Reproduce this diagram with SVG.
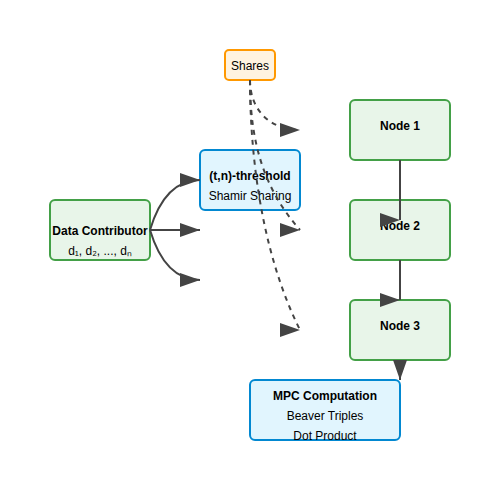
<svg xmlns="http://www.w3.org/2000/svg" width="500" height="500" viewBox="0 0 500 500">
  <defs>
    <marker id="arrowR" markerWidth="10" markerHeight="7" refX="10" refY="3.5" orient="0">
      <polygon points="0 0, 10 3.5, 0 7" fill="#444"/>
    </marker>
    <marker id="arrowA" markerWidth="10" markerHeight="7" refX="10" refY="3.5" orient="auto">
      <polygon points="0 0, 10 3.5, 0 7" fill="#444"/>
    </marker>
    <style>
      text { font-family: "Liberation Sans", Arial, sans-serif; font-size: 12px; fill: #000; text-anchor: middle; }
      .b { font-weight: bold; }
      .green { fill: #e8f5e9; stroke: #43a047; stroke-width: 2; }
      .blue { fill: #e1f5fe; stroke: #0288d1; stroke-width: 2; }
      .orange { fill: #fff3e0; stroke: #ff9800; stroke-width: 2; }
      .solid { fill: none; stroke: #444; stroke-width: 2; marker-end: url(#arrowR); }
      .dash { fill: none; stroke: #444; stroke-width: 2; stroke-dasharray: 5,5; marker-end: url(#arrowR); }
    </style>
  </defs>
  <rect width="500" height="500" fill="#fff"/>

  <g id="data-contributor">
    <rect class="green" x="50" y="200" width="100" height="60" rx="5"/>
    <text class="b" x="100" y="235">Data Contributor</text>
    <text x="100" y="255">d₁, d₂, ..., dₙ</text>
  </g>

  <g id="shares">
    <rect class="orange" x="225" y="50" width="50" height="30" rx="4"/>
    <text x="250" y="70">Shares</text>
  </g>

  <g id="shamir">
    <rect class="blue" x="200" y="150" width="100" height="60" rx="5"/>
    <text class="b" x="250" y="180">(t,n)-threshold</text>
    <text x="250" y="200">Shamir Sharing</text>
  </g>

  <g id="node1">
    <rect class="green" x="350" y="100" width="100" height="60" rx="5"/>
    <text class="b" x="400" y="130">Node 1</text>
  </g>

  <g id="node2">
    <rect class="green" x="350" y="200" width="100" height="60" rx="5"/>
    <text class="b" x="400" y="230">Node 2</text>
  </g>

  <g id="node3">
    <rect class="green" x="350" y="300" width="100" height="60" rx="5"/>
    <text class="b" x="400" y="330">Node 3</text>
  </g>

  <g id="mpc">
    <rect class="blue" x="250" y="380" width="150" height="60" rx="5"/>
    <text class="b" x="325" y="400">MPC Computation</text>
    <text x="325" y="420">Beaver Triples</text>
    <text x="325" y="440">Dot Product</text>
  </g>

  <g id="connectors">
    <path class="solid" d="M150,230 Q165,180 200,180"/>
    <path class="solid" d="M150,230 L200,230"/>
    <path class="solid" d="M150,230 Q165,280 200,280"/>
    <path class="dash" d="M250,80 C250,110 270,130 300,130"/>
    <path class="dash" d="M250,80 C250,145 265,190 300,230"/>
    <path class="dash" d="M250,80 C250,150 260,250 300,330"/>
    <path class="solid" d="M400,160 L400,220"/>
    <path class="solid" d="M400,260 L400,300"/>
    <path fill="none" stroke="#444" stroke-width="2" marker-end="url(#arrowA)" d="M400,360 L400,380"/>
  </g>
</svg>
